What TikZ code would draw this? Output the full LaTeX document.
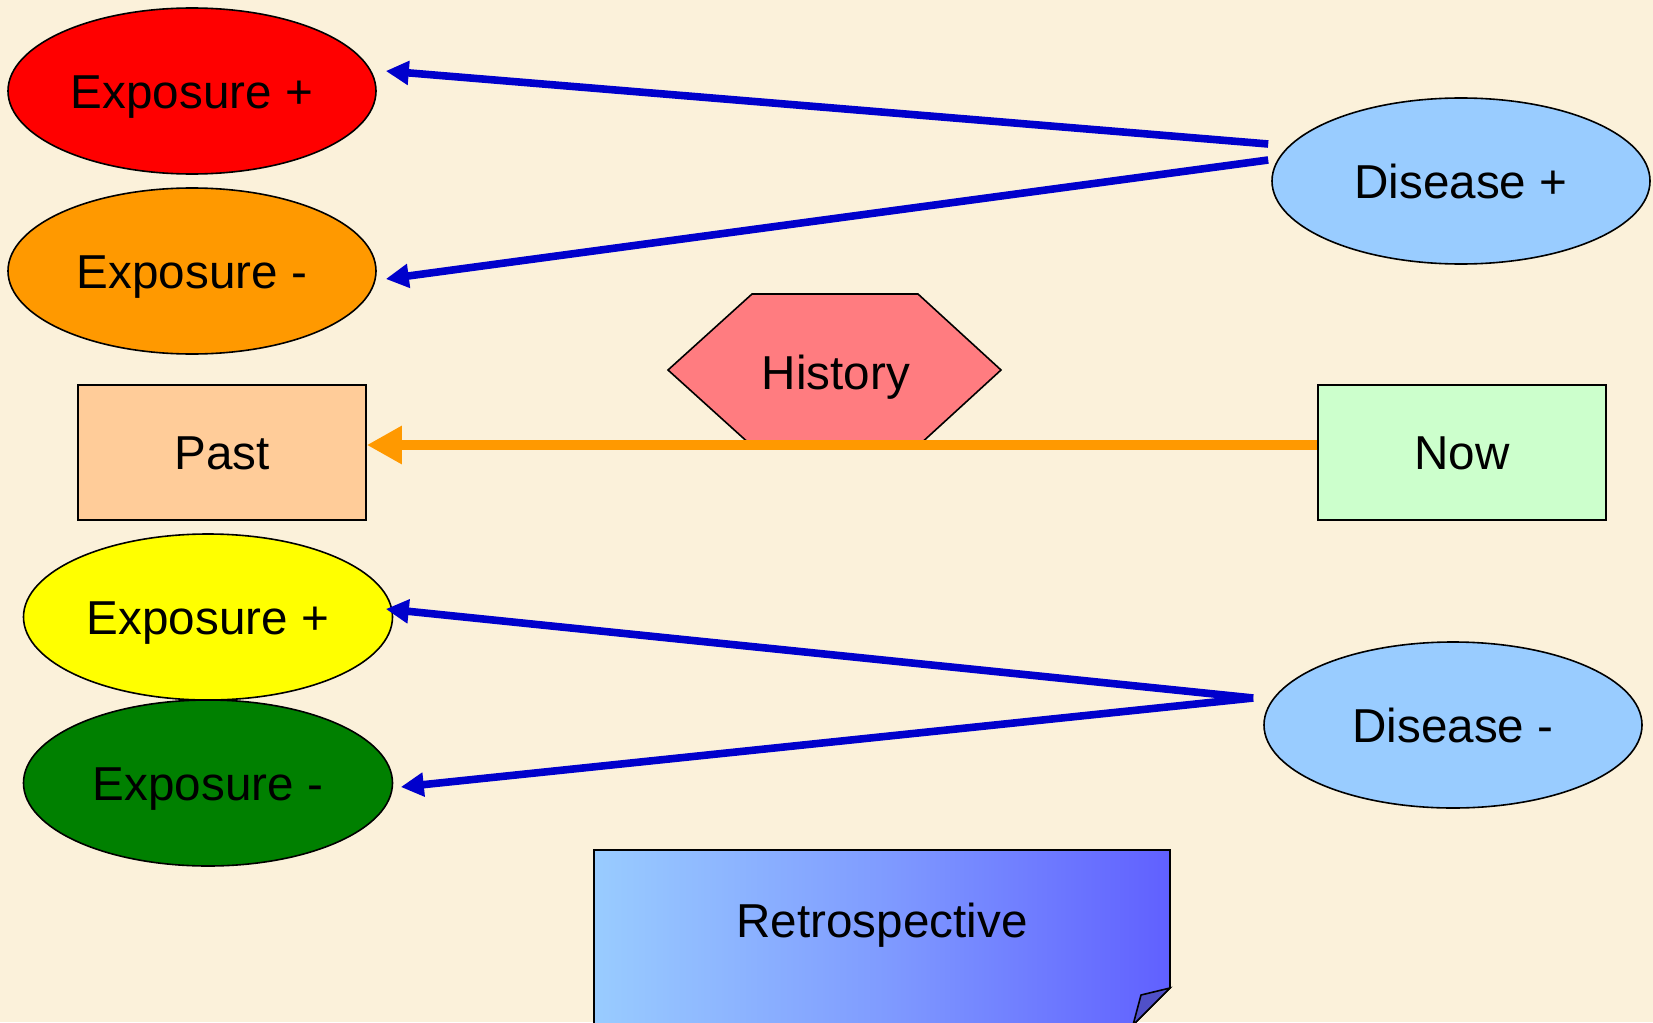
\documentclass[tikz,border=0pt]{standalone}
\usepackage{fontspec}
\setmainfont{Liberation Sans}
\usetikzlibrary{shapes.geometric,arrows.meta,calc}
\definecolor{bgcol}{HTML}{FBF1DA}
\definecolor{expred}{HTML}{FF0000}
\definecolor{exporange}{HTML}{FF9900}
\definecolor{expyellow}{HTML}{FFFF00}
\definecolor{expgreen}{HTML}{008000}
\definecolor{disblue}{HTML}{99CCFF}
\definecolor{histpink}{HTML}{FF7C80}
\definecolor{pastcol}{HTML}{FFCC99}
\definecolor{nowcol}{HTML}{CCFFCC}
\definecolor{arrblue}{HTML}{0000CC}
\definecolor{retroleft}{HTML}{99CCFF}
\definecolor{retroright}{HTML}{6060FF}
\definecolor{foldcol}{HTML}{5050C8}
\begin{document}
\begin{tikzpicture}[x=0.5pt,y=-0.5pt,
  lbl/.style={font=\fontsize{23.8}{28}\selectfont, text depth=0pt},
  ell/.style={ellipse, draw=black, line width=0.8pt, minimum width=184pt, minimum height=83pt, inner sep=0pt, lbl},
  boxnode/.style={rectangle, draw=black, line width=0.8pt, minimum width=144pt, minimum height=67.5pt, inner sep=0pt, lbl},
  bluearrow/.style={draw=arrblue, line width=3.8pt, -{Triangle[length=11.5pt,width=11.5pt]}},
  orangearrow/.style={draw=exporange, line width=5pt, -{Triangle[length=17.5pt,width=18pt]}},
  outline/.style={draw=black, line width=0.8pt}]
\fill[bgcol] (0,0) rectangle (1653,1022);
\useasboundingbox (0,0) rectangle (1653,1022);

% ellipses
\node[ell, fill=expred] (ep1) at (192,91) {\raisebox{-1.5pt}{Exposure +}};
\node[ell, fill=exporange] (em1) at (192,271) {\raisebox{-1.5pt}{Exposure -}};
\node[ell, fill=disblue, minimum width=189pt] (dp) at (1461,181) {Disease +};
\node[ell, fill=expyellow, minimum width=184.5pt] (ep2) at (208,617) {\raisebox{-1.5pt}{Exposure +}};
\node[ell, fill=expgreen, minimum width=184.5pt] (em2) at (208,783) {\raisebox{-1.5pt}{Exposure -}};
\node[ell, fill=disblue, minimum width=189pt] (dm) at (1453,725) {Disease -};

% boxes
\node[boxnode, fill=pastcol] (past) at (222,452.5) {\raisebox{-1pt}{Past}};
\node[boxnode, fill=nowcol] (now) at (1462,452.5) {\raisebox{-1pt}{Now}};

% history hexagon
\coordinate (hc) at (836,372);
\path[outline, fill=histpink] ($(hc)+(-168,-2)$) -- ($(hc)+(-84,-78)$) -- ($(hc)+(82,-78)$)
  -- ($(hc)+(165,-2)$) -- ($(hc)+(82,74)$) -- ($(hc)+(-84,74)$) -- cycle;
\node[lbl] (hist) at (hc) {History};

% retrospective box
\coordinate (rc) at (882,920);
\shade[left color=retroleft, right color=retroright, middle color=retroleft!55!retroright]
  ($(rc)+(-288,-70)$) -- ($(rc)+(288,-70)$) -- ($(rc)+(288,68)$) -- ($(rc)+(246,110)$) -- ($(rc)+(-288,110)$) -- cycle;
\draw[outline] ($(rc)+(-288,110)$) -- ($(rc)+(-288,-70)$) -- ($(rc)+(288,-70)$) -- ($(rc)+(288,68)$) -- ($(rc)+(246,110)$);
\path[outline, fill=foldcol] ($(rc)+(288,68)$) -- ($(rc)+(259,75)$) -- ($(rc)+(251,105)$) -- cycle;
\node[lbl] (retro) at (rc) {Retrospective};

% arrows
\coordinate (s1) at ($(dp.west)+(-3,-37)$);
\coordinate (s2) at ($(dp.west)+(-3,-21)$);
\draw[bluearrow] (s1) -- ($(ep1.east)+(9,-20)$);
\draw[bluearrow] (s2) -- ($(em1.east)+(9,8)$);
\coordinate (s3) at ($(dm.west)+(-10,-27)$);
\draw[bluearrow] (s3) -- ($(ep2.east)+(-7.5,-8)$);
\draw[bluearrow] (s3) -- ($(em2.east)+(7.5,4)$);
\draw[orangearrow] ($(now.west)+(0,-7.5)$) -- ($(past.east)+(0,-7.5)$);
\end{tikzpicture}
\end{document}
